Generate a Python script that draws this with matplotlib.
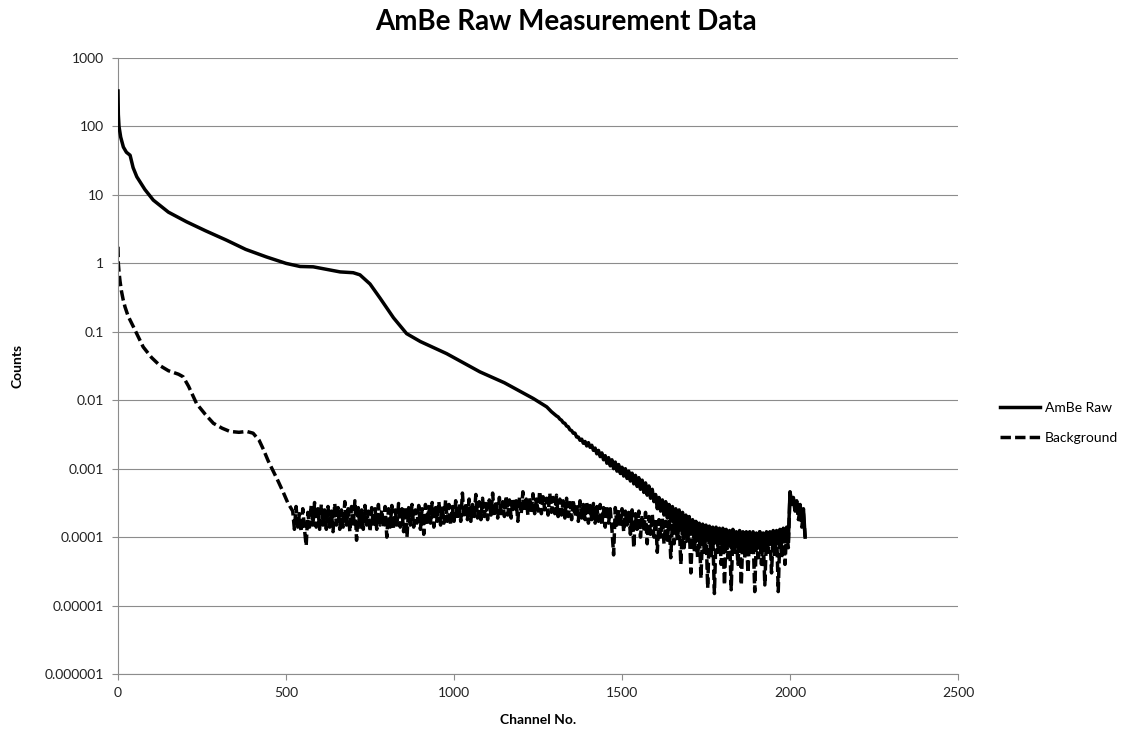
"""
AmBe raw measurement spectrum vs background (log counts per channel)
"""

import numpy as np
import matplotlib
matplotlib.use('Agg')
import matplotlib.pyplot as plt

plt.rcParams['font.family'] = ['Lato', 'DejaVu Sans']

# --- AmBe raw: smooth part (channel, counts) ---
ambe_ch_head = [0, 1, 3, 8, 16, 25, 36, 45, 56, 80, 105, 150, 204, 260, 323,
                380, 442, 500, 542, 581, 620, 661, 700, 720, 750, 780, 820,
                859, 900, 978, 1077, 1150, 1236, 1276, 1290]
ambe_cts_head = [330, 150, 100, 70, 50, 42, 38, 25, 18.4, 12, 8.4, 5.6, 4.05,
                 3.0, 2.18, 1.6, 1.24, 1.0, 0.9, 0.89, 0.82, 0.75, 0.73, 0.68,
                 0.5, 0.31, 0.16, 0.094, 0.072, 0.048, 0.026, 0.018, 0.0106,
                 0.008, 0.0068]

# --- AmBe raw: noisy tail, channels 1300..2045 step 5 (counts x 1e-3) ---
ambe_tail = [
    6.2, 5.9, 5.7, 5.3, 5.1, 4.7, 4.6, 4.2, 4.1, 3.7, 3.6, 3.3, 3.3, 2.9, 2.9, 2.6, 2.7, 2.35, 2.5, 2.15,
    2.4, 2.05, 2.2, 1.85, 2.0, 1.65, 1.85, 1.5, 1.7, 1.35, 1.55, 1.2, 1.45, 1.1, 1.35, 1.0, 1.25, 0.92, 1.15, 0.85,
    1.05, 0.78, 1.0, 0.72, 0.92, 0.66, 0.86, 0.6, 0.8, 0.55, 0.74, 0.5, 0.68, 0.45, 0.62, 0.41, 0.56, 0.37, 0.5, 0.33,
    0.42, 0.26, 0.38, 0.24, 0.35, 0.21, 0.33, 0.19, 0.3, 0.17, 0.28, 0.16, 0.26, 0.15, 0.25, 0.13, 0.23, 0.12, 0.21, 0.12,
    0.2, 0.11, 0.18, 0.095, 0.17, 0.1, 0.16, 0.09, 0.155, 0.085, 0.15, 0.09, 0.145, 0.08, 0.14, 0.085, 0.14, 0.075, 0.135, 0.08,
    0.135, 0.075, 0.13, 0.08, 0.125, 0.07, 0.13, 0.075, 0.12, 0.07, 0.125, 0.075, 0.12, 0.07, 0.12, 0.068, 0.115, 0.072, 0.12, 0.07,
    0.115, 0.07, 0.12, 0.075, 0.115, 0.07, 0.12, 0.075, 0.12, 0.078, 0.125, 0.075, 0.125, 0.08, 0.13, 0.08, 0.135, 0.085, 0.14, 0.09,
    0.46, 0.32, 0.38, 0.26, 0.34, 0.22, 0.3, 0.18, 0.26, 0.1,
]

# --- Background: smooth part ---
bg_ch_head = [0, 1, 3, 6, 10, 15, 21, 30, 46, 60, 75, 100, 125, 150, 180, 194,
              210, 234, 260, 284, 310, 333, 360, 383, 402, 420, 433, 447, 462,
              477, 492, 505]
bg_cts_head = [1.75, 1.0, 0.75, 0.55, 0.4, 0.3, 0.23, 0.17, 0.118, 0.085,
               0.06, 0.042, 0.032, 0.027, 0.024, 0.022, 0.016, 0.0089, 0.0062,
               0.0046, 0.0039, 0.0035, 0.0034, 0.0035, 0.0033, 0.0026, 0.0019,
               0.0013, 0.00092, 0.00065, 0.00045, 0.00032]

# --- Background: noisy part, channels 520..2045 step 5 (counts x 1e-4) ---
bg_tail = [
    2.4, 1.3, 2.8, 1.4, 2.2, 1.2, 2.6, 1.3, 0.75, 2.3, 1.4, 2.9, 1.5, 3.2, 1.4, 2.6, 1.3, 3.0, 1.5, 2.5,
    1.3, 2.8, 1.4, 2.4, 1.2, 3.1, 1.5, 2.7, 1.3, 2.5, 1.4, 3.3, 1.5, 2.6, 1.2, 2.8, 1.4, 3.4, 0.9, 2.7,
    1.4, 2.5, 1.3, 2.9, 1.5, 2.4, 1.2, 2.7, 1.4, 2.6, 1.3, 3.0, 1.5, 2.5, 1.4, 2.8, 1.0, 2.6, 1.4, 2.9,
    1.3, 2.5, 1.5, 3.1, 1.4, 2.6, 1.2, 2.8, 1.0, 2.7, 1.5, 3.0, 1.4, 2.5, 1.6, 2.9, 1.3, 2.6, 1.1, 3.0,
    1.5, 2.8, 1.6, 3.2, 1.4, 2.7, 1.7, 3.3, 1.5, 2.9, 1.6, 3.5, 1.7, 3.0, 1.5, 2.8, 1.7, 3.4, 1.8, 3.1,
    1.7, 4.4, 1.9, 3.2, 1.8, 3.6, 1.7, 3.0, 2.0, 4.2, 1.9, 3.3, 1.8, 3.7, 2.0, 3.1, 1.8, 3.5, 2.1, 4.4,
    2.0, 3.4, 1.9, 3.8, 2.2, 3.3, 2.0, 4.0, 2.1, 3.5, 1.9, 3.7, 2.3, 3.4, 1.7, 3.9, 2.2, 4.6, 2.4, 3.6,
    2.1, 3.8, 2.3, 4.3, 2.2, 3.6, 2.4, 4.7, 2.2, 3.9, 2.5, 3.7, 2.1, 4.4, 2.3, 3.8, 2.2, 4.1, 2.0, 3.6,
    2.1, 3.4, 1.9, 3.7, 2.0, 3.2, 1.8, 3.5, 2.0, 3.1, 1.7, 3.4, 1.9, 3.0, 1.8, 3.3, 1.6, 2.9, 1.8, 3.1,
    1.6, 2.8, 1.7, 3.0, 1.5, 2.7, 1.4, 2.9, 1.6, 2.6, 1.3, 0.55, 2.7, 1.5, 2.5, 1.4, 2.6, 1.2, 2.4, 1.5,
    2.3, 1.1, 2.5, 0.7, 2.2, 1.3, 2.4, 1.0, 2.1, 1.2, 2.3, 0.8, 2.0, 1.1, 2.2, 1.0, 1.9, 0.6, 1.8, 1.0,
    1.9, 0.8, 1.7, 0.9, 1.8, 0.5, 1.6, 0.8, 1.5, 0.9, 1.7, 0.4, 1.5, 0.7, 1.4, 0.8, 1.5, 0.3, 1.3, 0.6,
    1.4, 0.5, 1.2, 0.25, 1.3, 0.6, 1.2, 0.18, 1.3, 0.5, 1.1, 0.15, 1.2, 0.6, 1.3, 0.4, 1.1, 0.2, 1.2, 0.5,
    1.1, 0.17, 1.2, 0.6, 1.0, 0.4, 1.2, 0.2, 1.1, 0.5, 1.0, 0.3, 1.2, 0.6, 1.1, 0.16, 1.0, 0.5, 1.2, 0.4,
    1.1, 0.2, 1.0, 0.6, 1.2, 0.3, 1.1, 0.5, 1.3, 0.16, 1.2, 0.5, 1.3, 0.4, 1.2, 0.7, 4.5, 3.0, 3.5, 2.4,
    3.1, 1.8, 2.6, 1.4, 2.2, 1.0,
]

y_ticks = [1e-6, 1e-5, 1e-4, 1e-3, 1e-2, 1e-1, 1, 10, 100, 1000]
y_labels = ['0.000001', '0.00001', '0.0001', '0.001', '0.01', '0.1',
            '1', '10', '100', '1000']
x_ticks = [0, 500, 1000, 1500, 2000, 2500]


def build_series():
    ambe_x = np.concatenate([ambe_ch_head, np.arange(1300, 2046, 5)])
    ambe_y = np.concatenate([ambe_cts_head, np.array(ambe_tail) * 1e-3])
    bg_x = np.concatenate([bg_ch_head, np.arange(520, 2046, 5)])
    bg_y = np.concatenate([bg_cts_head, np.array(bg_tail) * 1e-4])
    return ambe_x, ambe_y, bg_x, bg_y


def main():
    ambe_x, ambe_y, bg_x, bg_y = build_series()

    fig = plt.figure(figsize=(11.39, 7.30), dpi=100)
    ax = fig.add_axes([0.1036, 0.0767, 0.7375, 0.8438])

    grid_col = '#8c8c8c'
    for yv in y_ticks:
        ax.axhline(yv, color=grid_col, linewidth=0.8, zorder=0)

    ax.plot(ambe_x, ambe_y, color='black', linewidth=2.5, label='AmBe Raw',
            solid_joinstyle='round', zorder=3)
    ax.plot(bg_x, bg_y, color='black', linewidth=2.5, dashes=(3, 1.2),
            label='Background', zorder=2)

    ax.set_yscale('log')
    ax.set_ylim(1e-6, 1000)
    ax.set_xlim(0, 2500)
    ax.set_yticks(y_ticks)
    ax.set_yticklabels(y_labels)
    ax.set_xticks(x_ticks)
    ax.set_xticklabels([str(v) for v in x_ticks])
    ax.yaxis.set_minor_locator(matplotlib.ticker.NullLocator())

    for side in ['top', 'right']:
        ax.spines[side].set_visible(False)
    for side in ['left', 'bottom']:
        ax.spines[side].set_color(grid_col)
        ax.spines[side].set_linewidth(0.8)
    ax.tick_params(axis='both', direction='out', length=4, width=0.8,
                   color=grid_col, labelsize=10, labelcolor='#222222')
    ax.tick_params(axis='y', pad=6)
    ax.tick_params(axis='x', pad=5)

    ax.set_xlabel('Channel No.', fontsize=10, fontweight='bold', labelpad=11)
    ax.set_ylabel('Counts', fontsize=10, fontweight='bold', labelpad=15)
    fig.suptitle('AmBe Raw Measurement Data', fontsize=20, fontweight='bold',
                 x=0.497, y=0.988)

    ax.legend(loc='center left', bbox_to_anchor=(1.035, 0.407), frameon=False,
              fontsize=10, handlelength=2.9, handletextpad=0.35,
              labelspacing=1.3)

    fig.savefig('out.png', dpi=100)
    plt.close(fig)


if __name__ == "__main__":
    main()
